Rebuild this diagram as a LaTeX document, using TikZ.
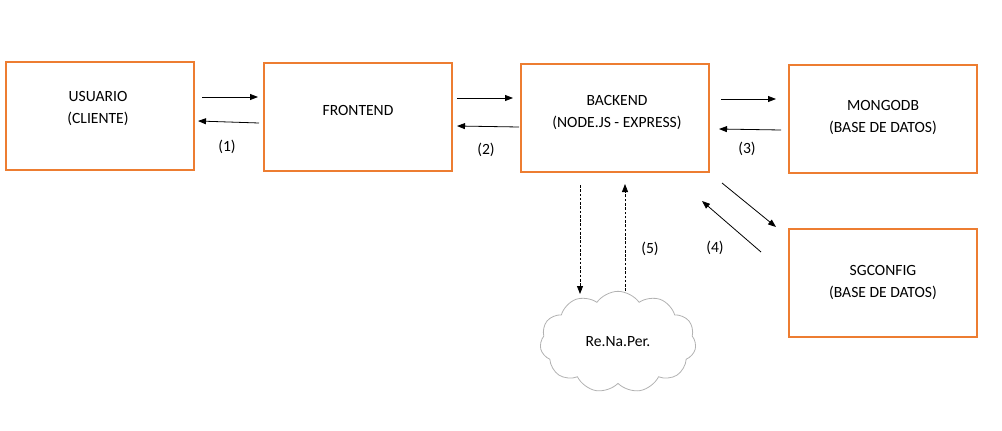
\documentclass[tikz,border=0pt]{standalone}
\usepackage{fontspec}
\setmainfont{Carlito}
\usetikzlibrary{arrows.meta,shapes.symbols,calc}
\definecolor{boxorange}{HTML}{ED7D31}
\begin{document}
\begin{tikzpicture}[x=0.75pt,y=-0.75pt,
  font=\fontsize{11.7}{16.5}\selectfont,
  box/.style={draw=boxorange,line width=0.8pt,minimum width=141pt,minimum height=81pt,inner sep=0pt},
  txt/.style={align=center,inner sep=0pt},
  arr/.style={line width=0.6pt,-{Triangle[length=6pt,width=4.5pt]}},
  darr/.style={line width=0.6pt,dash pattern=on 2pt off 1.2pt,-{Triangle[length=6pt,width=4.5pt]}},
  lbl/.style={inner sep=0pt}]
\useasboundingbox (0,0) rectangle (1002,431);
\node[box] (u) at (100,116) {};
\node[box] (f) at (358,117) {};
\node[box] (b) at (615,118) {};
\node[box] (m) at (883,119) {};
\node[box] (s) at (883,283) {};
\node[txt] (ut) at (98,109) {USUARIO\\(CLIENTE)};
\node[txt] (ft) at (358,110) {FRONTEND};
\node[txt] (bt) at (617,113) {BACKEND\\(NODE.JS - EXPRESS)};
\node[txt] (mt) at (883,118) {MONGODB\\(BASE DE DATOS)};
\node[txt] (st) at (883,283) {SGCONFIG\\(BASE DE DATOS)};
\node[cloud,draw=gray!60,line width=0.6pt,cloud puffs=11,cloud puff arc=110,aspect=1.6,
      minimum width=117pt,minimum height=76pt,inner sep=0pt] (r) at (618,342) {Re.Na.Per.};
% arrow endpoints
\coordinate (a1s) at (202,97);  \coordinate (a1e) at (258,97);
\coordinate (b1s) at (259,123); \coordinate (b1e) at (198,121);
\coordinate (a2s) at (457,98);  \coordinate (a2e) at (513,98);
\coordinate (b2s) at (519,127); \coordinate (b2e) at (457,126);
\coordinate (a3s) at (721,99);  \coordinate (a3e) at (776,99);
\coordinate (b3s) at (781,130); \coordinate (b3e) at (719,129);
\coordinate (a4s) at (722,183); \coordinate (a4e) at (776,227);
\coordinate (b4s) at (761,252); \coordinate (b4e) at (702,201);
\coordinate (a5s) at (580,185); \coordinate (a5e) at (580,294);
\coordinate (b5s) at (625,291); \coordinate (b5e) at (625,184);
\draw[arr] (a1s) -- (a1e);
\draw[arr] (b1s) -- (b1e);
\draw[arr] (a2s) -- (a2e);
\draw[arr] (b2s) -- (b2e);
\draw[arr] (a3s) -- (a3e);
\draw[arr] (b3s) -- (b3e);
\draw[arr] (a4s) -- (a4e);
\draw[arr] (b4s) -- (b4e);
\draw[darr] (a5s) -- (a5e);
\draw[darr] (b5s) -- (b5e);
\node[lbl] (l1) at (227,147) {(1)};
\node[lbl] (l2) at (486,150) {(2)};
\node[lbl] (l3) at (747,149) {(3)};
\node[lbl] (l4) at (715,248) {(4)};
\node[lbl] (l5) at (650,249) {(5)};
\end{tikzpicture}
\end{document}
